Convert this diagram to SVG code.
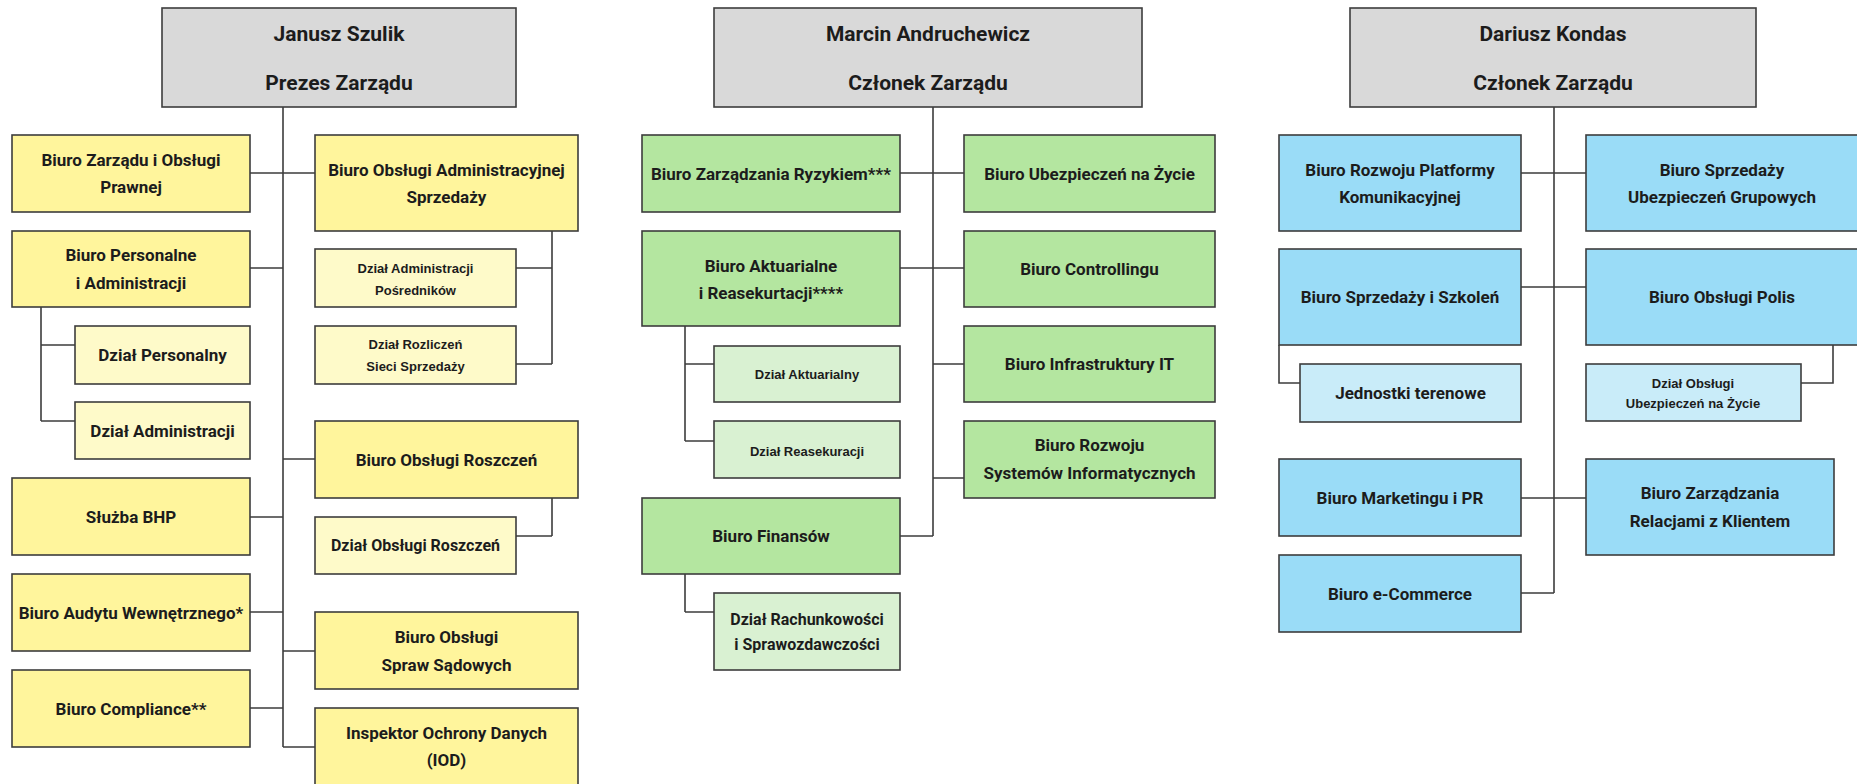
<svg xmlns="http://www.w3.org/2000/svg" width="1857" height="784" viewBox="0 0 1857 784">
<style>
.n rect{stroke:#3d3d3d;stroke-width:1.6}
.g{fill:#d9d9d9}.y{fill:#fff59c}.yl{fill:#fefac9}.gr{fill:#b4e6a0}.grl{fill:#d9f1d2}.b{fill:#9adcf7}.bl{fill:#c9ecf9}
text{font-family:Roboto,"Liberation Sans",sans-serif;font-weight:700;fill:#1c1c1c;text-anchor:middle}
.h{font-size:21px}.t{font-size:17px}.s{font-size:16px}
.a{font-family:"Liberation Sans",Arial,sans-serif;font-size:13px}
#connectors path{fill:none;stroke:#3d3d3d;stroke-width:1.6}
</style>
<rect x="0" y="0" width="1857" height="784" fill="#ffffff"/>
<g id="connectors">
<path d="M283 107V747M250 173H315M250 268H283M283 459H315M250 517H283M250 612H283M283 651H315M250 708H283M283 747H315"/>
<path d="M41 307V421M41 345H75M41 421H75"/>
<path d="M552 231V364M516 268H552M516 364H552M552 498V536M516 536H552"/>
<path d="M933 107V536M900 173H964M900 268H964M933 364H964M933 478H964M900 536H933"/>
<path d="M685 326V441M685 364H714M685 441H714M685 574V612M685 612H714"/>
<path d="M1554 107V593M1521 173H1586M1521 287H1586M1521 498H1586M1521 593H1554"/>
<path d="M1279 345V383H1300M1833 345V383H1801"/>
</g>
<g id="n_janusz" class="n"><rect class="g" x="162" y="8" width="354" height="99"/><text class="h" x="339" y="40.5">Janusz Szulik</text><text class="h" x="339" y="89.5">Prezes Zarządu</text></g>
<g id="n_biuro_zarzadu" class="n"><rect class="y" x="12" y="135" width="238" height="77"/><text class="t" x="131" y="166">Biuro Zarządu i Obsługi</text><text class="t" x="131" y="193">Prawnej</text></g>
<g id="n_boas" class="n"><rect class="y" x="315" y="135" width="263" height="96"/><text class="t" x="446.5" y="176">Biuro Obsługi Administracyjnej</text><text class="t" x="446.5" y="203">Sprzedaży</text></g>
<g id="n_personalne" class="n"><rect class="y" x="12" y="231" width="238" height="76"/><text class="t" x="131" y="261">Biuro Personalne</text><text class="t" x="131" y="289">i Administracji</text></g>
<g id="n_dz_adm_posr" class="n"><rect class="yl" x="315" y="249" width="201" height="58"/><text class="a" x="415.5" y="272.5">Dział Administracji</text><text class="a" x="415.5" y="294.5">Pośredników</text></g>
<g id="n_dz_personalny" class="n"><rect class="yl" x="75" y="326" width="175" height="58"/><text class="t" x="162.5" y="361">Dział Personalny</text></g>
<g id="n_dz_rozliczen" class="n"><rect class="yl" x="315" y="326" width="201" height="58"/><text class="a" x="415.5" y="348.5">Dział Rozliczeń</text><text class="a" x="415.5" y="370.5">Sieci Sprzedaży</text></g>
<g id="n_dz_administracji" class="n"><rect class="yl" x="75" y="402" width="175" height="57"/><text class="t" x="162.5" y="436.5">Dział Administracji</text></g>
<g id="n_bor" class="n"><rect class="y" x="315" y="421" width="263" height="77"/><text class="t" x="446.5" y="465.5">Biuro Obsługi Roszczeń</text></g>
<g id="n_bhp" class="n"><rect class="y" x="12" y="478" width="238" height="77"/><text class="t" x="131" y="522.5">Służba BHP</text></g>
<g id="n_dz_roszczen" class="n"><rect class="yl" x="315" y="517" width="201" height="57"/><text class="s" x="415.5" y="551">Dział Obsługi Roszczeń</text></g>
<g id="n_audyt" class="n"><rect class="y" x="12" y="574" width="238" height="77"/><text class="t" x="131" y="618.5">Biuro Audytu Wewnętrznego*</text></g>
<g id="n_sady" class="n"><rect class="y" x="315" y="612" width="263" height="77"/><text class="t" x="446.5" y="643">Biuro Obsługi</text><text class="t" x="446.5" y="671">Spraw Sądowych</text></g>
<g id="n_compliance" class="n"><rect class="y" x="12" y="670" width="238" height="77"/><text class="t" x="131" y="714.5">Biuro Compliance**</text></g>
<g id="n_iod" class="n"><rect class="y" x="315" y="708" width="263" height="80"/><text class="t" x="446.5" y="739">Inspektor Ochrony Danych</text><text class="t" x="446.5" y="766">(IOD)</text></g>

<g id="n_marcin" class="n"><rect class="g" x="714" y="8" width="428" height="99"/><text class="h" x="928" y="40.5">Marcin Andruchewicz</text><text class="h" x="928" y="89.5">Członek Zarządu</text></g>
<g id="n_ryzyko" class="n"><rect class="gr" x="642" y="135" width="258" height="77"/><text class="t" x="771" y="179.5">Biuro Zarządzania Ryzykiem***</text></g>
<g id="n_ubezp_zycie" class="n"><rect class="gr" x="964" y="135" width="251" height="77"/><text class="t" x="1089.5" y="179.5">Biuro Ubezpieczeń na Życie</text></g>
<g id="n_aktuarialne" class="n"><rect class="gr" x="642" y="231" width="258" height="95"/><text class="t" x="771" y="272">Biuro Aktuarialne</text><text class="t" x="771" y="299">i Reasekurtacji****</text></g>
<g id="n_controlling" class="n"><rect class="gr" x="964" y="231" width="251" height="76"/><text class="t" x="1089.5" y="275">Biuro Controllingu</text></g>
<g id="n_dz_aktuarialny" class="n"><rect class="grl" x="714" y="346" width="186" height="56"/><text class="a" x="807" y="378.5">Dział Aktuarialny</text></g>
<g id="n_it" class="n"><rect class="gr" x="964" y="326" width="251" height="76"/><text class="t" x="1089.5" y="370">Biuro Infrastruktury IT</text></g>
<g id="n_dz_reasekuracji" class="n"><rect class="grl" x="714" y="421" width="186" height="57"/><text class="a" x="807" y="455.5">Dział Reasekuracji</text></g>
<g id="n_rozwoj_sys" class="n"><rect class="gr" x="964" y="421" width="251" height="77"/><text class="t" x="1089.5" y="451">Biuro Rozwoju</text><text class="t" x="1089.5" y="479">Systemów Informatycznych</text></g>
<g id="n_finanse" class="n"><rect class="gr" x="642" y="498" width="258" height="76"/><text class="t" x="771" y="542">Biuro Finansów</text></g>
<g id="n_dz_rachunkowosci" class="n"><rect class="grl" x="714" y="593" width="186" height="77"/><text class="s" x="807" y="624.5">Dział Rachunkowości</text><text class="s" x="807" y="649.5">i Sprawozdawczości</text></g>

<g id="n_dariusz" class="n"><rect class="g" x="1350" y="8" width="406" height="99"/><text class="h" x="1553" y="40.5">Dariusz Kondas</text><text class="h" x="1553" y="89.5">Członek Zarządu</text></g>
<g id="n_platforma" class="n"><rect class="b" x="1279" y="135" width="242" height="96"/><text class="t" x="1400" y="176">Biuro Rozwoju Platformy</text><text class="t" x="1400" y="203">Komunikacyjnej</text></g>
<g id="n_grupowe" class="n"><rect class="b" x="1586" y="135" width="274" height="96"/><text class="t" x="1722" y="176">Biuro Sprzedaży</text><text class="t" x="1722" y="203">Ubezpieczeń Grupowych</text></g>
<g id="n_szkolen" class="n"><rect class="b" x="1279" y="249" width="242" height="96"/><text class="t" x="1400" y="303">Biuro Sprzedaży i Szkoleń</text></g>
<g id="n_polis" class="n"><rect class="b" x="1586" y="249" width="274" height="96"/><text class="t" x="1722" y="303">Biuro Obsługi Polis</text></g>
<g id="n_jednostki" class="n"><rect class="bl" x="1300" y="364" width="221" height="58"/><text class="t" x="1410.5" y="399">Jednostki terenowe</text></g>
<g id="n_dz_ubezp_zycie" class="n"><rect class="bl" x="1586" y="364" width="215" height="57"/><text class="a" x="1693" y="387.5">Dział Obsługi</text><text class="a" x="1693" y="407.5">Ubezpieczeń na Życie</text></g>
<g id="n_marketing" class="n"><rect class="b" x="1279" y="459" width="242" height="77"/><text class="t" x="1400" y="503.5">Biuro Marketingu i PR</text></g>
<g id="n_relacje" class="n"><rect class="b" x="1586" y="459" width="248" height="96"/><text class="t" x="1710" y="499">Biuro Zarządzania</text><text class="t" x="1710" y="527">Relacjami z Klientem</text></g>
<g id="n_ecommerce" class="n"><rect class="b" x="1279" y="555" width="242" height="77"/><text class="t" x="1400" y="599.5">Biuro e-Commerce</text></g>
</svg>
